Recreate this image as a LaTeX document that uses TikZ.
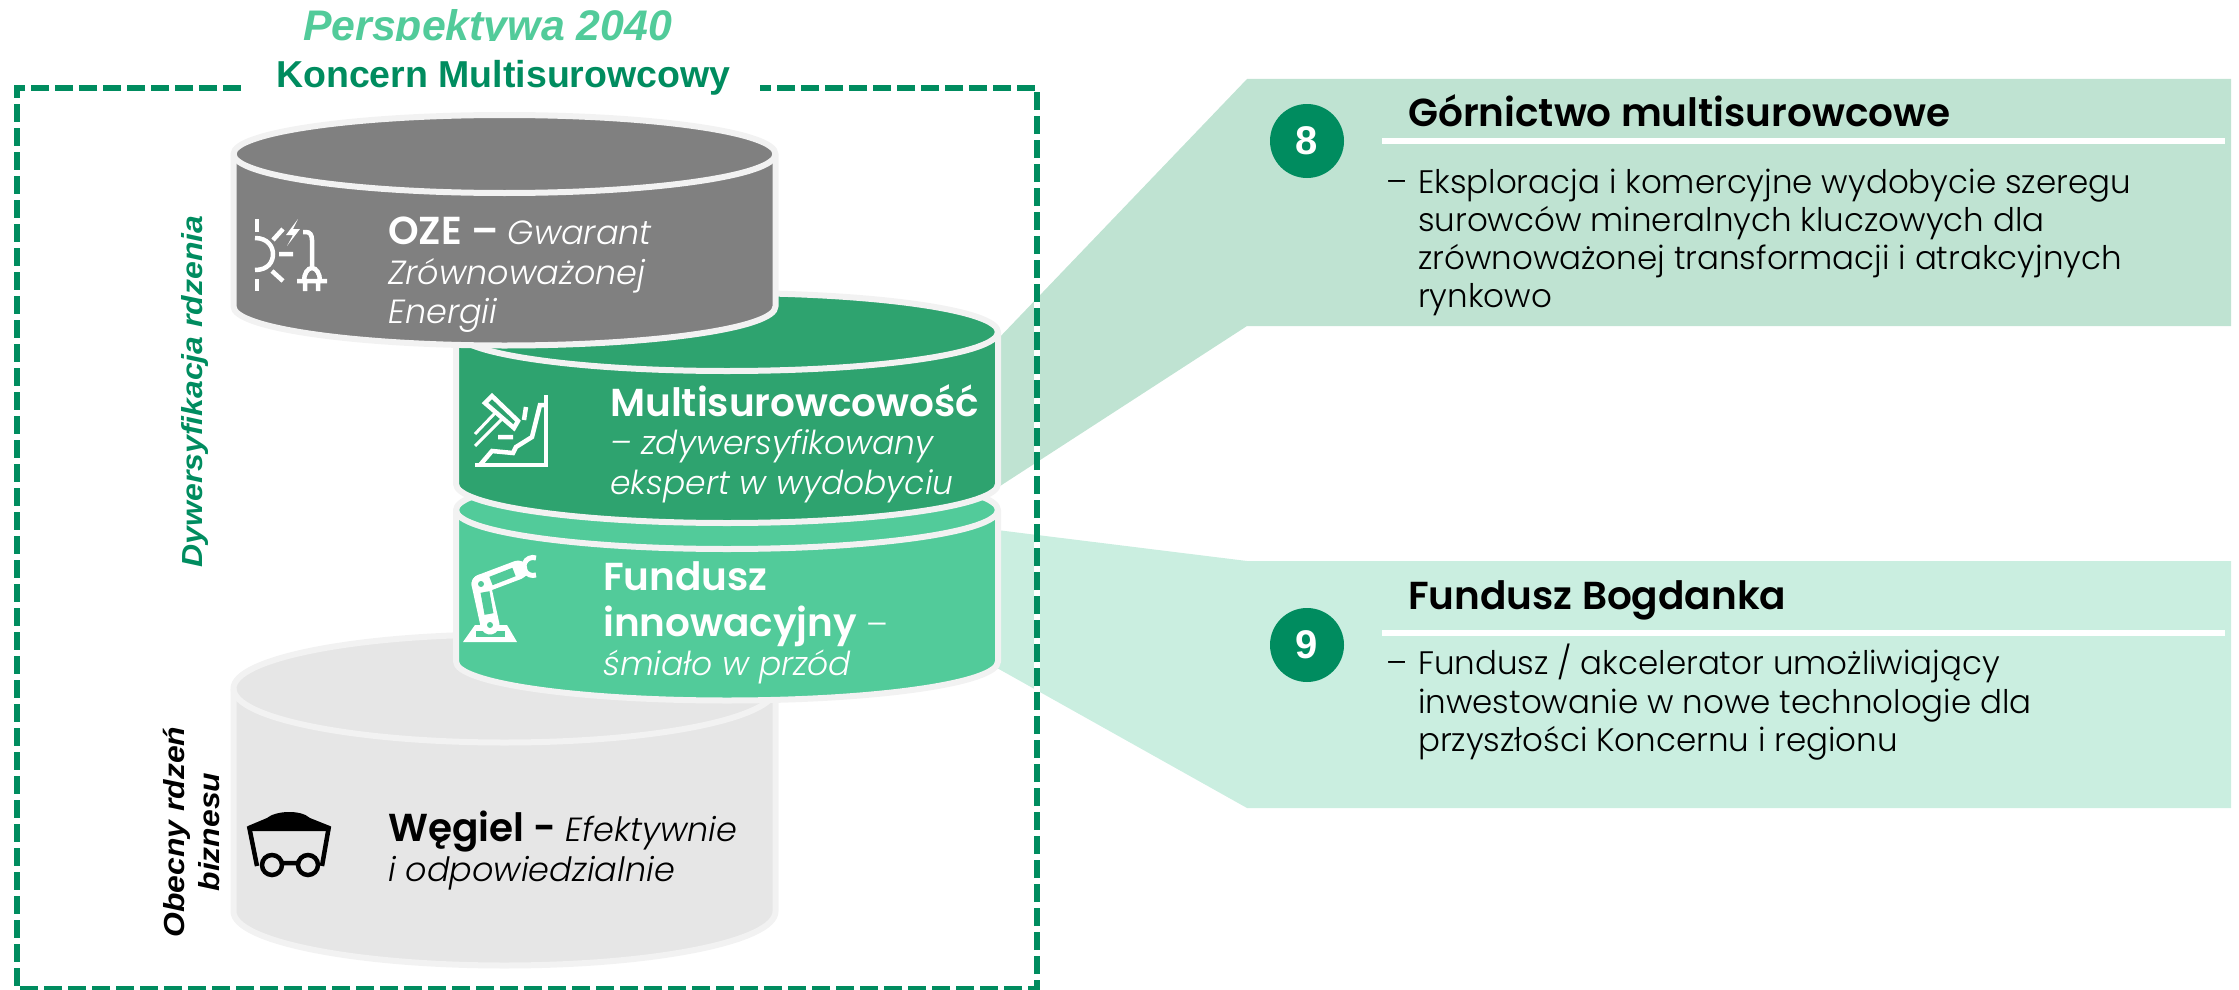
\documentclass[tikz,border=0pt]{standalone}
\usepackage{fontspec}
\setmainfont{Liberation Sans}
\newfontfamily\pop{Poppins}[UprightFont=* Light,ItalicFont=* Light Italic,BoldFont=* SemiBold,BoldItalicFont=* SemiBold Italic]
\newcommand\fsz[1]{\fontsize{#1}{#1}\selectfont}
\newcommand\bt[1]{{\bfseries\fsz{39}#1}}
\definecolor{kgreen}{HTML}{008C5F}
\definecolor{dgreen}{HTML}{2EA36F}
\definecolor{lgreen}{HTML}{52CB9A}
\definecolor{cgray}{HTML}{808080}
\definecolor{lgray}{HTML}{E6E6E6}
\definecolor{edge}{HTML}{F2F2F2}
\definecolor{band1}{HTML}{BFE3D2}
\definecolor{band2}{HTML}{CAEEE0}
\tikzset{
  txt/.style={anchor=base west,inner sep=0pt,yshift=-1.5pt,font=\pop\fsz{33.5}},
  wtxt/.style={txt,text=white},
  wtxs/.style={txt,text=white,font=\pop\fsz{33}},
  body/.style={anchor=base west,inner sep=0pt,yshift=-1.5pt,font=\pop\fsz{32.5},text=black},
  head/.style={anchor=base west,inner sep=0pt,yshift=-1pt,font=\pop\bfseries\fsz{39},text=black},
  numdot/.style={circle,fill=kgreen,minimum size=74pt,inner sep=0pt,text=white,font=\bfseries\fsz{40}},
  sidelabel/.style={rotate=90,inner sep=0pt,font=\bfseries\itshape\fsz{29}},
  rulew/.style={draw=white,line width=6pt},
  ico/.style={draw=white,line width=4.5pt},
  icob/.style={draw=black,line width=4.5pt},
}
% centre x, top-ellipse y, bottom-ellipse y, ry, fill
\newcommand\cyl[5]{%
  \path[fill=#5,draw=edge,line width=6pt,line join=round]
    (#1-271,#2) arc[start angle=180,end angle=0,x radius=271pt,y radius=#4pt]
    -- (#1+271,#3) arc[start angle=0,end angle=-180,x radius=271pt,y radius=#4pt] -- cycle;
  \draw[edge,line width=6pt] (#1-271,#2) arc[start angle=180,end angle=360,x radius=271pt,y radius=#4pt];
}
\begin{document}
\begin{tikzpicture}[x=1pt,y=-1pt]
\useasboundingbox (0,0) rectangle (2239,990);
% side bands
\fill[band1] (997,340) -- (1247,79) -- (2231,79) -- (2231,326) -- (1247,326) -- (997,488) -- cycle;
\fill[band2] (997,530) -- (1247,561) -- (2231,561) -- (2231,808) -- (1247,808) -- (997,668) -- cycle;
% frame
\draw[white,line width=5.5pt] (1037,88) -- (1037,989);
\draw[kgreen,line width=5.5pt,dash pattern=on 18pt off 6pt]
  (241,88) -- (17,88) -- (17,989) -- (1037,989) -- (1037,88) -- (760,88);
% cylinders
\cyl{504.5}{688.5}{911.5}{54}{lgray}
\cyl{727}{510}{661.5}{39}{lgreen}
\cyl{727}{332}{484}{39}{dgreen}
\cyl{504.5}{154}{306.5}{39}{cgray}
% titles
\begin{scope}
\clip (0,0) rectangle (2239,41);
\node[anchor=base west,inner sep=0pt,font=\bfseries\itshape\fsz{42.8},text=lgreen] (persp) at (303,41) {Perspektywa 2040};
\end{scope}
\node[anchor=base west,inner sep=0pt,font=\bfseries\fsz{37.5},text=kgreen] (koncern) at (276,88) {Koncern Multisurowcowy};
\node[sidelabel,text=kgreen,anchor=base] (dyw) at (202,391.5) {\scalebox{1.103}[1]{Dywersyfikacja rdzenia}};
\node[sidelabel,text=black,anchor=base] (ob1) at (184,832) {\scalebox{1.1}[1]{Obecny rdzeń}};
\node[sidelabel,text=black,anchor=base] (ob2) at (219,832) {\scalebox{1.1}[1]{biznesu}};
% cylinder texts
\node[wtxt] (oze1) at (388,243) {\bt{OZE –} \textit{Gwarant}};
\node[wtxt] (oze2) at (388,283) {\textit{Zrównoważonej}};
\node[wtxt] (oze3) at (388,322) {\textit{Energii}};
\node[wtxt] (mul1) at (610,415) {\bt{Multisurowcowość}};
\node[wtxs] (mul2) at (610,453) {\textit{– zdywersyfikowany}};
\node[wtxs] (mul3) at (610,493) {\textit{ekspert w wydobyciu}};
\node[wtxt] (fun1) at (603,589) {\bt{Fundusz}};
\node[wtxt] (fun2) at (603,635) {\bt{innowacyjny} –};
\node[wtxs] (fun3) at (603,674) {\textit{śmiało w przód}};
\node[txt] (weg1) at (388,840) {\bt{Węgiel -} \textit{Efektywnie}};
\node[txt] (weg2) at (388,880) {\textit{i odpowiedzialnie}};
% right panel 8
\node[numdot] (n8) at (1307,141) {8};
\node[head] (h8) at (1408,125) {Górnictwo multisurowcowe};
\draw[rulew] (1382,141) -- (2225,141);
\node[body] (d8) at (1386,192) {–};
\node[body] (b81) at (1418,192) {Eksploracja i komercyjne wydobycie szeregu};
\node[body] (b82) at (1418,230) {surowców mineralnych kluczowych dla};
\node[body] (b83) at (1418,268) {zrównoważonej transformacji i atrakcyjnych};
\node[body] (b84) at (1418,306) {rynkowo};
% right panel 9
\node[numdot] (n9) at (1307,645) {9};
\node[head] (h9) at (1408,608) {Fundusz Bogdanka};
\draw[rulew] (1382,633) -- (2225,633);
\node[body] (d9) at (1386,673) {–};
\node[body] (b91) at (1418,673) {Fundusz / akcelerator umożliwiający};
\node[body] (b92) at (1418,712) {inwestowanie w nowe technologie dla};
\node[body] (b93) at (1418,750) {przyszłości Koncernu i regionu};
% icon: sun and plug
\draw[ico] (257,219) -- (257,232) (257,279) -- (257,291);
\draw[ico] (255,238) .. controls (268,238) and (273,247) .. (273,254) .. controls (273,262) and (268,270) .. (255,270);
\draw[ico] (273,240) -- (283,229) (279,254) -- (293,254) (272,271) -- (283,281);
\fill[white] (298,219) -- (286,235) -- (293,235) -- (287,246) -- (300,229) -- (293,229) -- cycle;
\draw[ico] (303,232) -- (306,232) .. controls (310,232) and (312,235) .. (312,240) -- (312,268);
\draw[ico] (297,281) -- (327,281) (304,281) arc[start angle=180,end angle=0,x radius=8pt,y radius=13pt] (305,281) -- (305,291) (318,281) -- (318,291);
% icon: mining
\draw[ico,line join=miter] (485,403) -- (492,396) -- (518,421) -- (514,428) -- cycle;
\draw[draw=white,line width=3pt] (503,418) -- (475,446) (496,412) -- (475,434);
\draw[ico] (526,407) -- (524,420) (498,437) -- (513,437);
\draw[ico] (475,465) -- (546,465) -- (546,395);
\draw[ico] (480,465) -- (492,451) -- (513,453) -- (516,447) -- (532,437) -- (540,405) -- (546,405);
% icon: robot arm
\fill[white] (463,642) -- (517,642) -- (507,625) -- (475,625) -- cycle;
\fill[lgreen] (476,631) rectangle (505,637);
\draw[white,line width=19pt,line cap=round] (481,584) -- (490,625);
\draw[white,line width=19pt,line cap=round] (481,584) -- (518,570);
\draw[lgreen,line width=9pt] (485,592) -- (489,614) (491,581) -- (514,572);
\fill[lgreen] (481,584) circle (3pt) (490,625) circle (3pt);
\draw[white,line width=5pt] (520,565) -- (527,575);
\draw[white,line width=5pt] (536,558) arc[start angle=70,end angle=290,radius=9pt];
% icon: coal cart
\draw[icob] (249,826) -- (257,866) (329,826) -- (322,866);
\fill[black] (248,826) -- (267,818) .. controls (275,811) and (300,809) .. (310,818) -- (330,826) -- (330,831) -- (249,831) -- cycle;
\draw[icob] (272,865) circle (10pt) (308,865) circle (10pt) (282,863) -- (298,863);
\end{tikzpicture}
\end{document}
